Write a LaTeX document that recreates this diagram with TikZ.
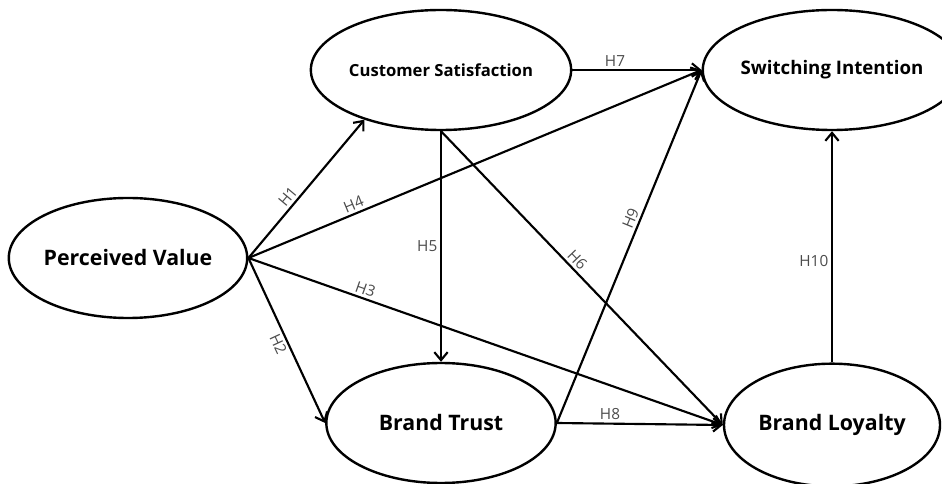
\documentclass[tikz,border=0pt]{standalone}
\usepackage{fontspec}
\setmainfont{Open Sans}
\usetikzlibrary{shapes.geometric,arrows.meta}

\begin{document}
\begin{tikzpicture}[x=0.75pt,y=-0.75pt,
 construct/.style ={ellipse,draw=black,line width=1.8pt,fill=white,inner sep=0pt,minimum width=172pt,minimum height=90pt},
 big/.style ={font=\bfseries\fontsize{16}{18}\selectfont},
 path/.style ={-{Straight Barb[length=6pt,width=10pt]},draw=black,line width=1.6pt},
 hyp/.style ={font=\fontsize{11.5}{13}\selectfont,text=black!70,inner sep=2pt}
 ]
\useasboundingbox (0,0) rectangle (942,484);
%draw constructs
\node[construct,big] (pv) at (128,258) {Perceived Value};
\node[construct,font=\bfseries\fontsize{12.5}{14}\selectfont] (cs) at (441,70) {Customer Satisfaction};
\node[construct,big] (bt) at (441,423) {Brand Trust};
\node[construct,minimum width=162pt,font=\bfseries\fontsize{14}{16}\selectfont] (si) at (832,70) {Switching Intention};
\node[construct,big,minimum width=162pt,minimum height=92pt] (bl) at (832,425) {Brand Loyalty};
%draw paths from perceived value
\draw[path] (pv.east) -- node[hyp,sloped,above,pos=.4] {H1} (cs.213);
\draw[path] (pv.east) -- node[hyp,sloped,below,pos=.5] {H2} (bt.west);
\draw[path] (pv.east) -- node[hyp,sloped,above,pos=.24] {H3} (bl.west);
\draw[path] (pv.east) -- node[hyp,sloped,above,pos=.24] {H4} (si.west);
%draw paths from customer satisfaction
\draw[path] (cs.south) -- node[hyp,left,pos=.5] {H5} (bt.north);
\draw[path] (cs.south) -- node[hyp,sloped,above,pos=.46] {H6} (bl.west);
\draw[path] (cs.east) -- node[hyp,above,pos=.33] {H7} (si.west);
%draw paths from brand trust
\draw[path] (bt.east) -- node[hyp,above,pos=.32] {H8} (bl.west);
\draw[path] (bt.east) -- node[hyp,sloped,above,pos=.57] {H9} (si.west);
%draw path from brand loyalty
\draw[path] (bl.north) -- node[hyp,left,pos=.44] {H10} (si.south);
\end{tikzpicture}
\end{document}
